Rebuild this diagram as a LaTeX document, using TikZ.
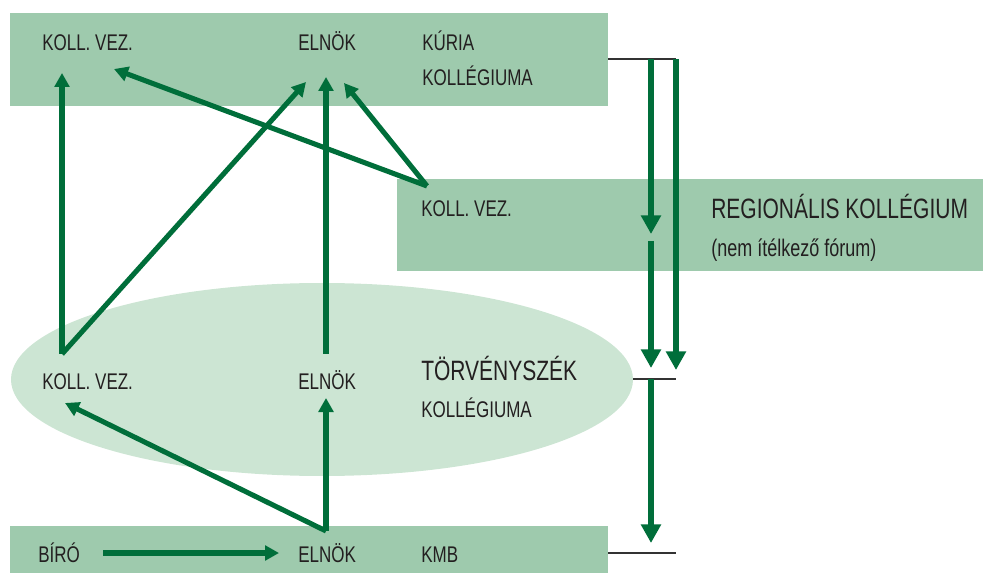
\documentclass[tikz,border=0pt]{standalone}
\usepackage{fontspec}
\setmainfont{Liberation Sans}[FakeStretch=0.75]
\usetikzlibrary{arrows.meta}
\definecolor{band}{HTML}{9ECAAD}
\definecolor{light}{HTML}{CCE5D3}
\definecolor{arr}{HTML}{006E3A}
\definecolor{txt}{HTML}{231F20}
\definecolor{thin}{HTML}{333333}
\tikzset{
  lbl/.style={anchor=base west,inner sep=0pt,text=txt,font=\fontsize{17pt}{20pt}\selectfont},
  sub/.style={anchor=base west,inner sep=0pt,text=txt,font=\fontsize{18pt}{21pt}\selectfont},
  big/.style={anchor=base west,inner sep=0pt,text=txt,font=\fontsize{21pt}{24pt}\selectfont},
  conn/.style={draw=arr,line width=3.8pt,-{Triangle[width=11pt,length=10.5pt]}},
  flow/.style={draw=arr,line width=5pt,-{Triangle[width=14.5pt,length=14pt]}},
  rule/.style={draw=thin,line width=0.8pt}
}
\begin{document}
\begin{tikzpicture}[x=0.75pt,y=-0.75pt]
\useasboundingbox (0,0) rectangle (983,574);
% backgrounds
\fill[band] (10,13) rectangle (608,106);
\fill[band] (397,179) rectangle (983,271);
\fill[light] (322,379.5) ellipse [x radius=311, y radius=96.5];
\fill[band] (10,526) rectangle (608,573);
% labels
\node[lbl] (kvTop) at (42,51) {KOLL. VEZ.};
\node[lbl] (elTop) at (298,51) {ELNÖK};
\node[lbl] (kuria) at (422,51) {KÚRIA};
\node[lbl] (kolTop) at (422,86) {KOLLÉGIUMA};
\node[lbl] (kvReg) at (421,217) {KOLL. VEZ.};
\node[big] (reg) at (711,219) {REGIONÁLIS KOLLÉGIUM};
\node[sub] (nem) at (711,257) {(nem ítélkező fórum)};
\node[lbl] (kvTor) at (42,389) {KOLL. VEZ.};
\node[lbl] (elTor) at (298,389) {ELNÖK};
\node[big] (tor) at (421,380) {TÖRVÉNYSZÉK};
\node[lbl] (kolTor) at (421,417) {KOLLÉGIUMA};
\node[lbl] (biro) at (38,562) {BÍRÓ};
\node[lbl] (elKmb) at (298,562) {ELNÖK};
\node[lbl] (kmb) at (421,562) {KMB};
% connector end points
\coordinate (kvTorS) at (62,354);
\coordinate (kvTopT) at (62,73);
\coordinate (elTopL) at (306,82);
\coordinate (elTopT) at (326,77);
\coordinate (elTopR) at (344,83);
\coordinate (kvTopR) at (114,69);
\coordinate (kvRegS) at (427,186);
\coordinate (elTorS) at (326,354);
\coordinate (elTorT) at (326,398);
\coordinate (kvTorT) at (65,403);
\coordinate (elKmbS) at (326,531);
\coordinate (biroE) at (103,553);
\coordinate (elKmbW) at (279,553);
% left-side connectors
\draw[conn] (kvTorS) -- (kvTopT);
\draw[conn] (kvTorS) -- (elTopL);
\draw[conn] (elTorS) -- (elTopT);
\draw[conn] (kvRegS) -- (kvTopR);
\draw[conn] (kvRegS) -- (elTopR);
\draw[conn] (elKmbS) -- (elTorT);
\draw[conn] (elKmbS) -- (kvTorT);
\draw[conn] (biroE) -- (elKmbW);
% right side
\coordinate (r1a) at (608,59);
\coordinate (r1b) at (676,59);
\coordinate (r2a) at (633,379);
\coordinate (r2b) at (676,379);
\coordinate (r3a) at (608,553);
\coordinate (r3b) at (676,553);
\draw[rule] (r1a) -- (r1b);
\draw[rule] (r2a) -- (r2b);
\draw[rule] (r3a) -- (r3b);
\coordinate (aTop) at (651,59);
\coordinate (aMid) at (651,234);
\coordinate (aMid2) at (651,241);
\coordinate (aTor) at (651,368);
\coordinate (bTop) at (676,59);
\coordinate (bTor) at (676,370);
\coordinate (cTop) at (651,379);
\coordinate (cKmb) at (651,543);
\draw[flow] (aTop) -- (aMid);
\draw[flow] (aMid2) -- (aTor);
\draw[flow] (bTop) -- (bTor);
\draw[flow] (cTop) -- (cKmb);
\end{tikzpicture}
\end{document}
